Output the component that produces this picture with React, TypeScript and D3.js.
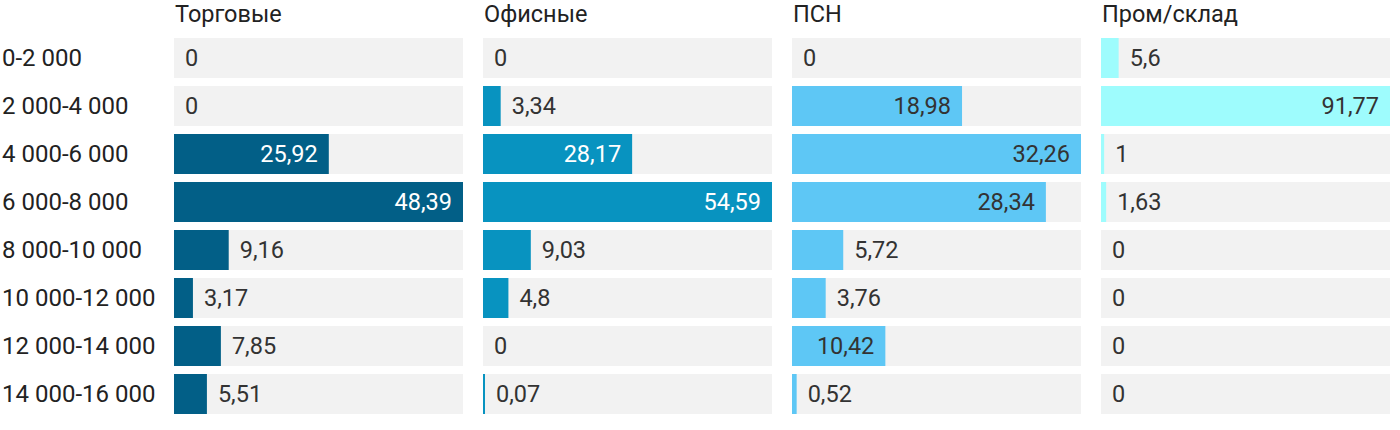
import React from "react";
import * as d3 from "d3";

const categories = [
  "0-2 000",
  "2 000-4 000",
  "4 000-6 000",
  "6 000-8 000",
  "8 000-10 000",
  "10 000-12 000",
  "12 000-14 000",
  "14 000-16 000",
];

const seriesNames = ["Торговые", "Офисные", "ПСН", "Пром/склад"];

const trade = [0, 0, 25.92, 48.39, 9.16, 3.17, 7.85, 5.51];
const office = [0, 3.34, 28.17, 54.59, 9.03, 4.8, 0, 0.07];
const psn = [0, 18.98, 32.26, 28.34, 5.72, 3.76, 10.42, 0.52];
const industrial = [5.6, 91.77, 1, 1.63, 0, 0, 0, 0];

const seriesValues = [trade, office, psn, industrial];
const seriesColors = ["#025f87", "#0893c0", "#5ec7f5", "#9efcfd"];
const insideTextColors = ["#ffffff", "#ffffff", "#333333", "#333333"];

const W = 1400;
const H = 430;
const FONT = "Roboto, 'Noto Sans', sans-serif";
const FS = 23.5;
const FS_ROW = 24;

const fmt = (v: number) => String(v).replace(".", ",");

let ctx: CanvasRenderingContext2D | null = null;
function textWidth(s: string) {
  if (!ctx) {
    const c = document.createElement("canvas");
    ctx = c.getContext("2d");
  }
  if (!ctx) return s.length * FS * 0.55;
  ctx.font = `${FS}px Roboto`;
  return ctx.measureText(s).width;
}

export default function App() {
  const y = d3
    .scaleBand<string>()
    .domain(categories)
    .range([38, 414])
    .paddingInner(1 / 6)
    .paddingOuter(0);

  const panel = d3
    .scaleBand<string>()
    .domain(seriesNames)
    .range([174, 1390])
    .paddingInner(20 / 309)
    .paddingOuter(0);

  const pw = panel.bandwidth();

  return (
    <svg
      width={W}
      height={H}
      style={{ position: "absolute", left: 0, top: 0, display: "block" }}
      fontFamily={FONT}
    >
      <rect x={0} y={0} width={W} height={H} fill="#ffffff" />
      {categories.map((c) => (
        <text
          key={c}
          x={2}
          y={(y(c) as number) + y.bandwidth() / 2}
          dy="0.35em"
          fontSize={FS_ROW}
          fill="#222"
        >
          {c}
        </text>
      ))}
      {seriesNames.map((name, si) => {
        const x0 = panel(name) as number;
        const vals = seriesValues[si];
        const x = d3
          .scaleLinear()
          .domain([0, d3.max(vals) as number])
          .range([0, pw]);
        return (
          <g key={name} transform={`translate(${x0},0)`}>
            <text x={1} y={22} fontSize={FS} fill="#222">
              {name}
            </text>
            {categories.map((c, i) => {
              const v = vals[i];
              const by = y(c) as number;
              const bw = x(v);
              const label = fmt(v);
              const tw = textWidth(label);
              const inside = bw > tw + 22;
              return (
                <g key={c}>
                  <rect x={0} y={by} width={pw} height={y.bandwidth()} fill="#f2f2f2" />
                  {v > 0 && (
                    <rect
                      x={0}
                      y={by}
                      width={Math.max(bw, 2)}
                      height={y.bandwidth()}
                      fill={seriesColors[si]}
                    />
                  )}
                  <text
                    x={inside ? bw - 11 : (v > 0 ? Math.max(bw, 2) : 0) + 11}
                    y={by + y.bandwidth() / 2}
                    dy="0.35em"
                    textAnchor={inside ? "end" : "start"}
                    fontSize={FS}
                    fill={inside ? insideTextColors[si] : "#333333"}
                  >
                    {label}
                  </text>
                </g>
              );
            })}
          </g>
        );
      })}
    </svg>
  );
}
